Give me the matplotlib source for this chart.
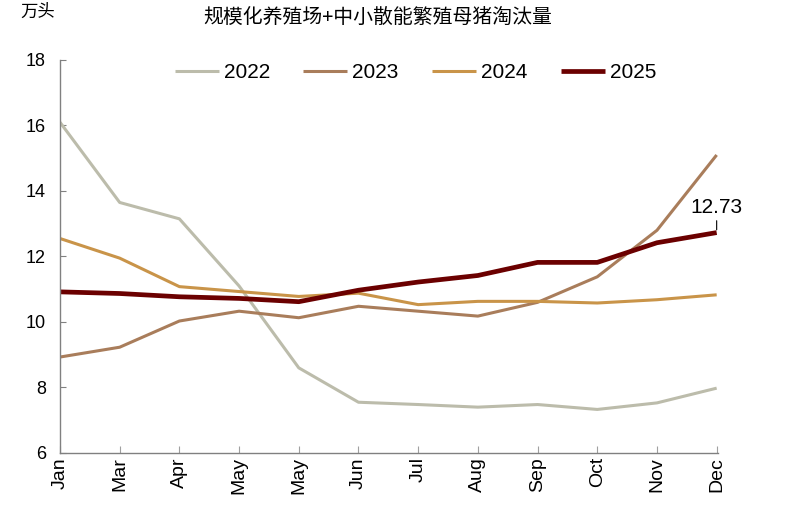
import matplotlib as mpl
mpl.use('Agg')
import matplotlib.pyplot as plt

plt.rcParams['font.family'] = ['Liberation Sans', 'Noto Sans CJK SC', 'DejaVu Sans']

months = ['Jan', 'Mar', 'Apr', 'May', 'May', 'Jun', 'Jul', 'Aug', 'Sep', 'Oct', 'Nov', 'Dec']

y2022 = [16.1, 13.65, 13.15, 11.1, 8.6, 7.55, 7.48, 7.4, 7.48, 7.33, 7.53, 7.98]
y2023 = [8.93, 9.23, 10.03, 10.33, 10.13, 10.48, 10.33, 10.18, 10.6, 11.38, 12.8, 15.1]
y2024 = [12.55, 11.95, 11.08, 10.93, 10.78, 10.88, 10.53, 10.63, 10.63, 10.58, 10.68, 10.83]
y2025 = [10.92, 10.87, 10.77, 10.72, 10.62, 10.97, 11.22, 11.42, 11.82, 11.82, 12.42, 12.73]

series = [('2022', y2022, '#bcbcab', 2.2),
          ('2023', y2023, '#a97d5b', 2.2),
          ('2024', y2024, '#c99449', 2.2),
          ('2025', y2025, '#6b0000', 3.4)]

fig = plt.figure(figsize=(8.04, 5.24), dpi=100)
ax = fig.add_axes([0.0746, 0.1355, 0.819, 0.75])

x = list(range(len(months)))
for name, vals, col, lw in series:
    ax.plot(x, vals, color=col, lw=lw, label=name, solid_capstyle='butt')

ax.set_xlim(0, 11.03)
ax.set_ylim(6, 18)
ax.set_yticks([6, 8, 10, 12, 14, 16, 18])
ax.set_xticks(x)
ax.set_xticklabels(months, rotation=90, fontsize=14)
ax.tick_params(axis='y', labelsize=13, direction='in', length=4, color='#808080', pad=10)
ax.tick_params(axis='x', direction='in', length=5, color='#a0a0a0', pad=3)

for s in ['top', 'right']:
    ax.spines[s].set_visible(False)
for s in ['left', 'bottom']:
    ax.spines[s].set_color('#808080')
    ax.spines[s].set_linewidth(1.0)

ax.legend(loc='upper center', bbox_to_anchor=(0.54, 1.04), ncol=4, frameon=False,
          fontsize=15, handlelength=2.1, handletextpad=0.25, columnspacing=1.6)

ax.annotate('12.73', xy=(11, y2025[-1]), xytext=(11.0, 13.22), fontsize=15,
            ha='center', va='bottom',
            arrowprops=dict(arrowstyle='-', color='black', lw=0.8,
                            shrinkA=1, shrinkB=2))

fig.text(0.47, 0.966, '规模化养殖场+中小散能繁殖母猪淘汰量', ha='center', va='center',
         fontsize=14.3, family=['Noto Sans CJK SC', 'DejaVu Sans'])
fig.text(0.025, 0.978, '万头', ha='left', va='center', fontsize=12.5,
         family=['Noto Sans CJK SC', 'DejaVu Sans'])

plt.savefig('out.png', dpi=100)
